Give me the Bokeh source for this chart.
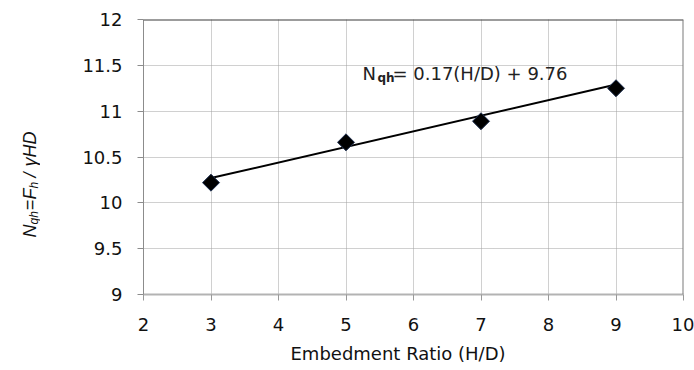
from bokeh.plotting import figure
from bokeh.models import Range1d, FixedTicker, CustomJSTickFormatter, Label, Span, Title, ColumnDataSource
from bokeh.layouts import row
from bokeh.core.properties import value
from bokeh.embed import file_html
from bokeh.resources import INLINE

# ---- data ----
embed_ratio = [3, 5, 7, 9]
n_qh = [10.22, 10.66, 10.89, 11.25]
trend_x = [3, 9]
trend_y = [10.27, 11.29]
x_ticks = [2, 3, 4, 5, 6, 7, 8, 9, 10]
y_ticks = [9, 9.5, 10, 10.5, 11, 11.5, 12]
equation_main = "N"
equation_sub = "qh"
equation_rest = "= 0.17(H/D) + 9.76"
x_label = "Embedment Ratio (H/D)"
y_label_parts = ["N", "qh", "=", "F", "h", "/", "γHD"]

TICK_FONT = "DejaVu Sans"
H = 370
TOP, BOTTOM = 19, 76

p = figure(width=654, height=H, output_backend="svg", toolbar_location=None,
           x_range=Range1d(2, 10), y_range=Range1d(9, 12),
           min_border_left=103, min_border_right=11, min_border_top=TOP, min_border_bottom=BOTTOM)
p.outline_line_color = None
p.background_fill_color = "white"
p.border_fill_color = "white"

for ax, ticks, sd in ((p.xaxis[0], x_ticks, 17), (p.yaxis[0], y_ticks, 15)):
    ax.ticker = FixedTicker(ticks=ticks)
    ax.formatter = CustomJSTickFormatter(code="return tick.toString();")
    ax.major_label_text_font = TICK_FONT
    ax.major_label_text_font_size = "18px"
    ax.major_label_text_color = "#111111"
    ax.major_tick_out = 6
    ax.major_tick_in = 0
    ax.minor_tick_line_color = None
    ax.major_label_standoff = sd

p.xaxis.axis_line_color = "#b3b3b3"
p.xaxis.axis_line_width = 2
p.xaxis.major_tick_line_color = "#999999"
p.yaxis.axis_line_color = "#8c8c8c"
p.yaxis.major_tick_line_color = "#8c8c8c"

p.xgrid.ticker = FixedTicker(ticks=x_ticks[1:-1])
p.ygrid.ticker = FixedTicker(ticks=y_ticks[1:-1])
for g in (p.xgrid[0], p.ygrid[0]):
    g.grid_line_color = "#a0a0a0"
    g.grid_line_dash = "1 1"
    g.grid_line_width = 1

p.add_layout(Span(location=12, dimension="width", line_color="#3a3a3a", line_width=2))
p.add_layout(Span(location=10, dimension="height", line_color="#7a7a7a", line_width=2))

p.line(trend_x, trend_y, line_color="black", line_width=2)
p.scatter(embed_ratio, n_qh, marker="square", angle=0.785398, size=12, fill_color="black",
          line_color="#1f3050", line_width=1)

# equation
eq_x, eq_y = 5.244, 11.41
p.add_layout(Label(x=eq_x, y=eq_y, text=equation_main, text_font=TICK_FONT,
                   text_font_size="18px", text_color="#222222", text_baseline="alphabetic"))
p.add_layout(Label(x=eq_x, y=eq_y, x_offset=15, y_offset=-4, text=equation_sub,
                   text_font=TICK_FONT, text_font_style="bold", text_font_size="12px",
                   text_color="#222222", text_baseline="alphabetic"))
p.add_layout(Label(x=eq_x, y=eq_y, x_offset=30, text=equation_rest, text_font=TICK_FONT,
                   text_font_size="18px", text_color="#222222", text_baseline="alphabetic"))

# x axis label as a title below the axis
p.add_layout(Title(text=x_label, align="left", offset=147, text_font=TICK_FONT,
                   text_font_size="18px", text_font_style="normal", text_color="#111111",
                   standoff=14), "below")

# y axis label in a narrow side figure (1 unit = 1 px, y measured up from page bottom)
lf = figure(width=40, height=H, output_backend="svg", toolbar_location=None,
            x_range=Range1d(0, 40), y_range=Range1d(BOTTOM, H - TOP),
            min_border=0, min_border_left=0, min_border_right=0,
            min_border_top=TOP, min_border_bottom=BOTTOM)
lf.axis.visible = False
lf.grid.visible = False
lf.outline_line_color = None
lf.background_fill_color = "white"
lf.border_fill_color = "white"

y0 = H - 237
src = ColumnDataSource(dict(
    x=[29, 33, 29, 29, 33, 29, 29],
    y=[y0 + d for d in [0, 13, 27, 38, 49, 60, 71]],
    text=y_label_parts,
    size=["18px", "12px", "18px", "18px", "12px", "18px", "18px"],
))
lf.text(x="x", y="y", text="text", source=src, angle=1.5707963,
        text_font=value("Liberation Sans"), text_font_style="italic",
        text_font_size="size", text_color="#111111", text_align="left",
        text_baseline="alphabetic")

layout = row(lf, p, spacing=0)
open("out.html", "w").write(file_html(layout, INLINE))
